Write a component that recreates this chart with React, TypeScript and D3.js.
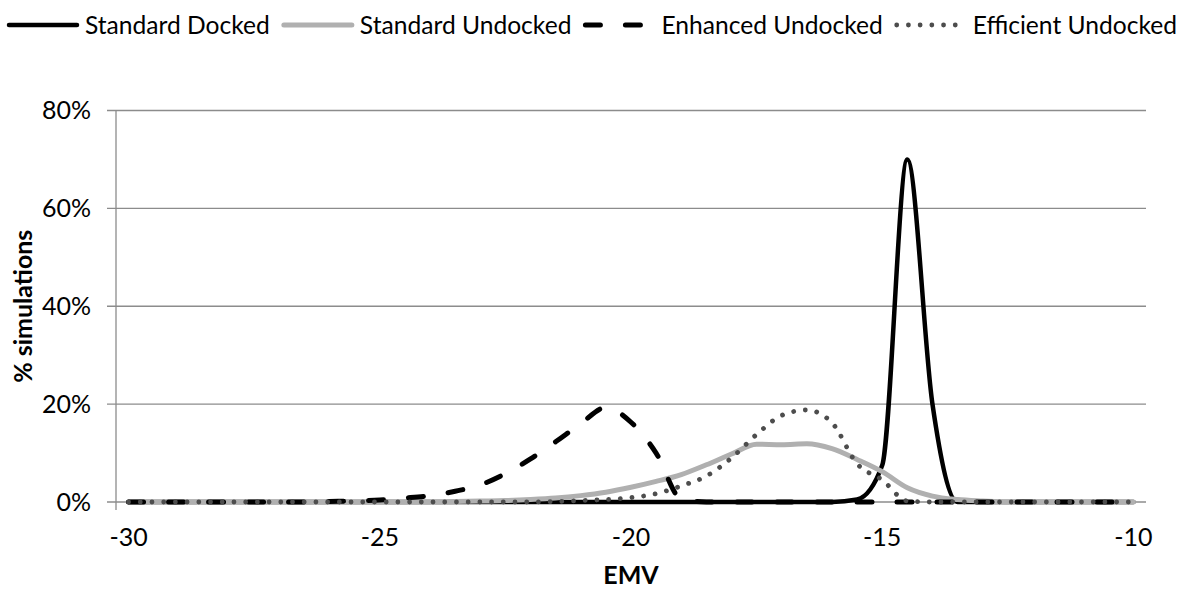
import React, { useEffect, useRef } from 'react';
import * as d3 from 'd3';

// EMV categories (category axis, 0.5 steps)
const emv = [
  -30, -29.5, -29, -28.5, -28, -27.5, -27, -26.5, -26, -25.5,
  -25, -24.5, -24, -23.5, -23, -22.5, -22, -21.5, -21, -20.5,
  -20, -19.5, -19, -18.5, -18, -17.5, -17, -16.5, -16, -15.5,
  -15, -14.5, -14, -13.5, -13, -12.5, -12, -11.5, -11, -10.5, -10
];
const xTickLabels = [-30, -25, -20, -15, -10];
const yTicks = [0, 20, 40, 60, 80];

// % of simulations
const standardDocked = [
  0, 0, 0, 0, 0, 0, 0, 0, 0, 0,
  0, 0, 0, 0, 0, 0, 0, 0, 0, 0,
  0, 0, 0, 0, 0, 0, 0, 0, 0, 0.5,
  7.5, 70, 20, 0, 0, 0, 0, 0, 0, 0, 0
];
const standardUndocked = [
  0, 0, 0, 0, 0, 0, 0, 0, 0, 0,
  0, 0, 0, 0.1, 0.2, 0.3, 0.5, 0.8, 1.3, 2.0,
  3.0, 4.2, 5.6, 7.6, 9.8, 11.8, 11.7, 11.9, 10.9, 8.7,
  6.2, 2.9, 1.2, 0.5, 0.2, 0, 0, 0, 0, 0, 0
];
const enhancedUndocked = [
  0, 0, 0, 0, 0, 0, 0, 0, 0.1, 0.2,
  0.4, 0.8, 1.3, 2.2, 3.5, 5.8, 8.8, 12.3, 16, 19.3,
  16.3, 10, 0.6, 0, 0, 0, 0, 0, 0, 0,
  0, 0, 0, 0, 0, 0, 0, 0, 0, 0, 0
];
const efficientUndocked = [
  0, 0, 0, 0, 0, 0, 0, 0, 0, 0,
  0, 0, 0, 0, 0, 0, 0, 0.1, 0.3, 0.5,
  0.9, 1.7, 3.3, 5.3, 9, 13.8, 17.7, 18.8, 16.2, 7.8,
  4.5, 0.2, 0, 0, 0, 0, 0, 0, 0, 0, 0
];

const series = [
  { name: 'Standard Docked', values: standardDocked, color: '#000000', width: 4.5, dash: null },
  { name: 'Standard Undocked', values: standardUndocked, color: '#b0b0b0', width: 5, dash: null },
  { name: 'Enhanced Undocked', values: enhancedUndocked, color: '#000000', width: 5, dash: '15 25' },
  { name: 'Efficient Undocked', values: efficientUndocked, color: '#4d4d4d', width: 4.8, dash: '0.01 11.7' }
];

const FONT = 'Lato, "Open Sans", sans-serif';

const App = () => {
  const svgRef = useRef<SVGSVGElement>(null);

  useEffect(() => {
    if (!svgRef.current) return;
    const svg = d3.select(svgRef.current);
    svg.selectAll('*').remove();

    const width = 1189;
    const height = 592;
    const margin = { top: 110.5, right: 43, bottom: 90, left: 116 };

    const x = d3.scalePoint<number>()
      .domain(emv)
      .range([margin.left, width - margin.right])
      .padding(0.5);

    const y = d3.scaleLinear()
      .domain([0, 80])
      .range([height - margin.bottom, margin.top]);

    // gridlines + y ticks
    svg.append('g')
      .selectAll('line')
      .data(yTicks)
      .join('line')
      .attr('x1', margin.left - 9)
      .attr('x2', width - margin.right)
      .attr('y1', d => y(d))
      .attr('y2', d => y(d))
      .attr('stroke', '#8c8c8c')
      .attr('stroke-width', 1.3);

    // y axis line
    svg.append('line')
      .attr('x1', margin.left)
      .attr('x2', margin.left)
      .attr('y1', y(80))
      .attr('y2', y(0) + 8)
      .attr('stroke', '#8c8c8c')
      .attr('stroke-width', 1.3);

    // y tick labels
    svg.append('g')
      .selectAll('text')
      .data(yTicks)
      .join('text')
      .attr('x', margin.left - 25)
      .attr('y', d => y(d))
      .attr('dy', '0.35em')
      .attr('text-anchor', 'end')
      .attr('font-family', FONT)
      .attr('font-size', 25)
      .text(d => `${d}%`);

    // x tick labels
    svg.append('g')
      .selectAll('text')
      .data(xTickLabels)
      .join('text')
      .attr('x', d => x(d))
      .attr('y', 546)
      .attr('text-anchor', 'middle')
      .attr('font-family', FONT)
      .attr('font-size', 25)
      .text(d => d);

    // axis titles
    svg.append('text')
      .attr('x', (margin.left + width - margin.right) / 2)
      .attr('y', 584)
      .attr('text-anchor', 'middle')
      .attr('font-family', FONT)
      .attr('font-weight', 'bold')
      .attr('font-size', 25)
      .text('EMV');

    svg.append('text')
      .attr('transform', `translate(32,${(y(0) + y(80)) / 2}) rotate(-90)`)
      .attr('text-anchor', 'middle')
      .attr('font-family', FONT)
      .attr('font-weight', 'bold')
      .attr('font-size', 25)
      .text('% simulations');

    // lines
    const line = d3.line<number>()
      .x((_, i) => x(emv[i]) as number)
      .y(d => y(d))
      .curve(d3.curveMonotoneX);

    series.forEach(s => {
      svg.append('path')
        .datum(s.values)
        .attr('d', line)
        .attr('fill', 'none')
        .attr('stroke', s.color)
        .attr('stroke-width', s.width)
        .attr('stroke-linecap', 'round')
        .attr('stroke-linejoin', 'round')
        .attr('stroke-dasharray', s.dash);
    });

    // legend
    const legend = svg.append('g');
    let lx = 9;
    const ly = 25;
    series.forEach(s => {
      legend.append('line')
        .attr('x1', lx)
        .attr('x2', lx + 68)
        .attr('y1', ly)
        .attr('y2', ly)
        .attr('stroke', s.color)
        .attr('stroke-width', s.width)
        .attr('stroke-linecap', 'round')
        .attr('stroke-dasharray', s.dash);
      const t = legend.append('text')
        .attr('x', lx + 76)
        .attr('y', ly)
        .attr('dy', '0.35em')
        .attr('font-family', FONT)
        .attr('font-size', 24.6)
        .text(s.name);
      const w = (t.node() as SVGTextElement).getComputedTextLength();
      lx += 76 + w + 14;
    });
  }, []);

  return (
    <div style={{ position: 'absolute', left: 0, top: 0 }}>
      <svg ref={svgRef} width={1189} height={592} style={{ display: 'block', background: '#fff' }} />
    </div>
  );
};

export default App;
